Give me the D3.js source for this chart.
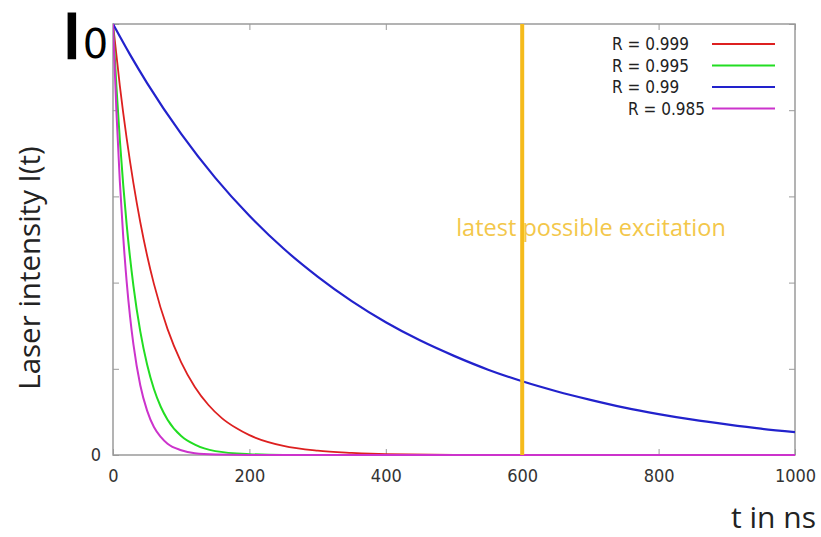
<!DOCTYPE html>
<html><head><meta charset="utf-8">
<script src="https://cdn.jsdelivr.net/npm/d3@7"></script>
<style>html,body{margin:0;padding:0;background:#fff;}svg{display:block;}</style>
</head><body>
<svg id="chart" width="821" height="537"></svg>
<script>
// ---- data ----
const xTicks = [0, 200, 400, 600, 800, 1000];
const yTicks = [0, 0.2, 0.4, 0.6, 0.8, 1];
const yTickLabels = ["0", "", "", "", "", ""];
const seriesNames = ["R = 0.999", "R = 0.995", "R = 0.99", "R = 0.985"];
const seriesColors = ["#dd2020", "#22dd22", "#2222cc", "#cc33cc"];
const tRed = [0,10,20,30,40,50,60,80,100,120,140,160,180,200,250,300,350,400,500,600,1000];
const vRed = [1,0.857,0.735,0.630,0.540,0.463,0.397,0.292,0.215,0.158,0.116,0.085,0.063,0.046,0.021,0.010,0.005,0.002,0.0005,0,0];
const tGreen = [0,5,10,15,20,30,40,50,60,70,80,100,120,150,200,250,1000];
const vGreen = [1,0.855,0.732,0.626,0.535,0.392,0.287,0.210,0.153,0.112,0.082,0.044,0.024,0.009,0.002,0,0];
const tBlue = [0,25,50,100,150,200,250,300,350,400,450,500,550,600,650,700,750,800,850,900,950,1000];
const vBlue = [1,0.929,0.863,0.745,0.643,0.555,0.479,0.414,0.357,0.308,0.266,0.230,0.198,0.171,0.148,0.128,0.110,0.095,0.082,0.071,0.061,0.053];
const tMagenta = [0,5,10,15,20,25,30,40,50,60,70,80,100,120,150,200,1000];
const vMagenta = [1,0.797,0.635,0.506,0.403,0.321,0.256,0.162,0.103,0.065,0.042,0.026,0.011,0.004,0.001,0,0];
const excitationT = 600;
const excitationLabel = "latest possible excitation";

const series = [
  {name: seriesNames[0], color: seriesColors[0], t: tRed, v: vRed, w: 1.8},
  {name: seriesNames[1], color: seriesColors[1], t: tGreen, v: vGreen, w: 2},
  {name: seriesNames[2], color: seriesColors[2], t: tBlue, v: vBlue, w: 2.2},
  {name: seriesNames[3], color: seriesColors[3], t: tMagenta, v: vMagenta, w: 2}
];

const svg = d3.select("#chart");
const L = 113, R = 795, T = 24, B = 455;
const x = d3.scaleLinear().domain([0, 1000]).range([L, R]);
const y = d3.scaleLinear().domain([0, 1]).range([B, T]);
const frameColor = "#9a9a9a";
const tickFont = "'DejaVu Sans Condensed', 'DejaVu Sans', sans-serif";

// frame
svg.append("rect").attr("x", L).attr("y", T).attr("width", R - L).attr("height", B - T)
  .attr("fill", "none").attr("stroke", frameColor).attr("stroke-width", 1.5);

// axes (inside ticks, mirrored)
const axB = d3.axisBottom(x).tickValues(xTicks).tickSizeInner(-6).tickSizeOuter(0).tickPadding(14).tickFormat(d3.format("d"));
const axT = d3.axisTop(x).tickValues(xTicks).tickSizeInner(-6).tickSizeOuter(0).tickFormat("");
const axL = d3.axisLeft(y).tickValues(yTicks).tickSizeInner(-6).tickSizeOuter(0).tickPadding(12)
  .tickFormat((d, i) => yTickLabels[i]);
const axR = d3.axisRight(y).tickValues(yTicks).tickSizeInner(-6).tickSizeOuter(0).tickFormat("");

function styleAxis(sel) {
  sel.select(".domain").remove();
  sel.selectAll(".tick line").attr("stroke", frameColor);
  sel.selectAll(".tick text").attr("fill", "#333").style("font-family", tickFont).style("font-size", "18px");
}
svg.append("g").attr("transform", `translate(0,${B})`).call(axB).call(styleAxis);
svg.append("g").attr("transform", `translate(0,${T})`).call(axT).call(styleAxis);
svg.append("g").attr("transform", `translate(${L},0)`).call(axL).call(styleAxis);
svg.append("g").attr("transform", `translate(${R},0)`).call(axR).call(styleAxis);

// curves
const line = d3.line().x(d => x(d[0])).y(d => y(d[1])).curve(d3.curveMonotoneX);
svg.append("clipPath").attr("id","clip").append("rect")
  .attr("x", L).attr("y", T - 2).attr("width", R - L).attr("height", B - T + 4);

const g = svg.append("g").attr("clip-path", "url(#clip)");
series.forEach(s => {
  g.append("path")
    .datum(s.t.map((t, i) => [t, s.v[i]]))
    .attr("d", line)
    .attr("fill", "none")
    .attr("stroke", s.color)
    .attr("stroke-width", s.w);
});

// excitation line
svg.append("line")
  .attr("x1", x(excitationT)).attr("x2", x(excitationT))
  .attr("y1", T).attr("y2", B)
  .attr("stroke", "#f5bb1c").attr("stroke-width", 4);

// excitation label
svg.append("text").attr("x", 591).attr("y", 236).attr("text-anchor", "middle")
  .attr("fill", "#f3c74a").style("font-family", "'Open Sans', sans-serif").style("font-size", "23.5px")
  .text(excitationLabel);

// legend
const legX = [612, 612, 612, 628];
series.forEach((s, i) => {
  const yy = 44 + i * 21.5;
  svg.append("text").attr("x", legX[i]).attr("y", yy + 6).attr("fill", "#222")
    .style("font-family", tickFont).style("font-size", "17px").text(s.name);
  svg.append("line").attr("x1", 712).attr("x2", 775).attr("y1", yy).attr("y2", yy)
    .attr("stroke", s.color).attr("stroke-width", 2);
});

// I0
const i0 = svg.append("text").attr("x", 63).attr("y", 58).attr("fill", "#000")
  .style("font-family", "'DejaVu Sans', sans-serif");
i0.append("tspan").style("font-size", "60px").attr("stroke", "#000").attr("stroke-width", 2.6).text("I");
i0.append("tspan").style("font-size", "40px").attr("dx", 2).text("0");

// y label
svg.append("text").attr("transform", "translate(40,268) rotate(-90)").attr("text-anchor", "middle")
  .attr("fill", "#222").style("font-family", "'Open Sans', sans-serif").style("font-size", "29.5px")
  .text("Laser intensity I(t)");

// x label
svg.append("text").attr("x", 816).attr("y", 528).attr("text-anchor", "end")
  .attr("fill", "#222").style("font-family", "'Open Sans', sans-serif").style("font-size", "30px")
  .text("t in ns");
</script>
</body></html>
